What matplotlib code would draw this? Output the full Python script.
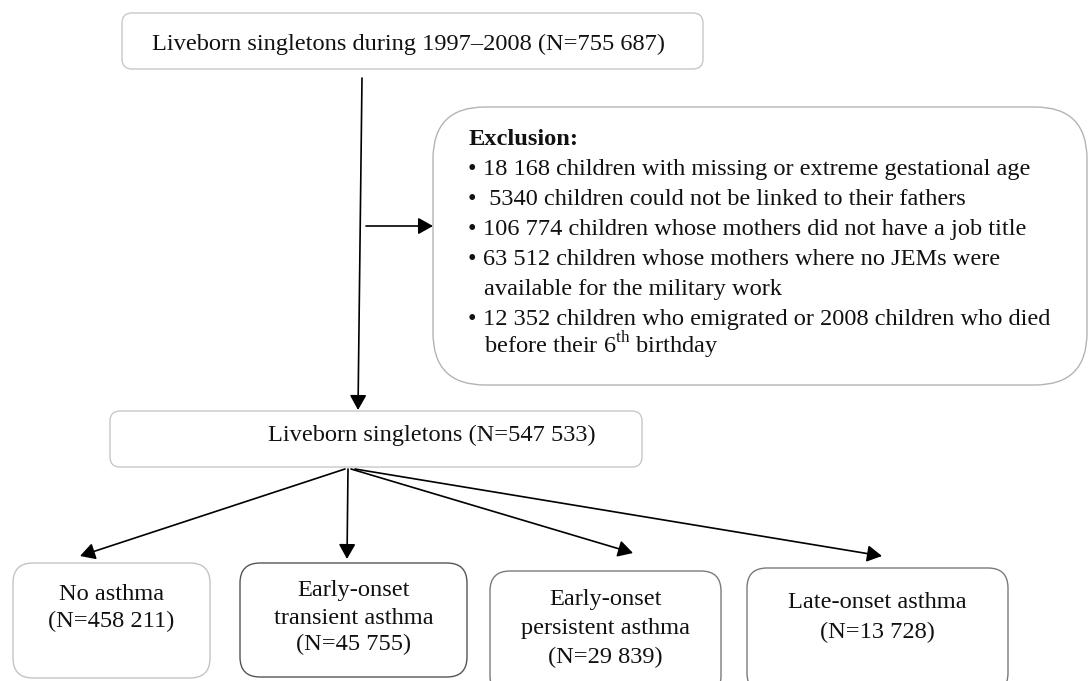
import matplotlib
matplotlib.use("Agg")
import matplotlib.pyplot as plt
from matplotlib.patches import FancyBboxPatch, FancyArrowPatch

# ---------------- data ----------------
total_born = 755687
birth_years = ("1997", "2008")
exclusion_counts = [18168, 5340, 106774, 63512, 12352, 2008]
final_cohort = 547533
group_labels = [["No asthma"],
                ["Early-onset", "transient asthma"],
                ["Early-onset", "persistent asthma"],
                ["Late-onset asthma"]]
group_counts = [458211, 45755, 29839, 13728]


def fmt(n):
    return f"{n:,}".replace(",", " ") if n >= 10000 else str(n)


plt.rcParams["mathtext.fontset"] = "custom"
plt.rcParams["mathtext.rm"] = "Liberation Serif"
FONT = "Liberation Serif"
FS = 17.6

fig = plt.figure(figsize=(10.88, 6.81), dpi=100)
ax = fig.add_axes([0, 0, 1, 1])
ax.set_xlim(0, 1088)
ax.set_ylim(681, 0)
ax.axis("off")


def box(x, y, w, h, r, ec, lw=1.0):
    p = FancyBboxPatch((x, y), w, h, boxstyle=f"round,pad=0,rounding_size={r}",
                       fc="white", ec=ec, lw=lw, zorder=1)
    ax.add_patch(p)


def arrow(p0, p1):
    a = FancyArrowPatch(p0, p1, arrowstyle="-|>,head_length=0.5,head_width=0.28",
                        mutation_scale=18, lw=1.2, color="black",
                        shrinkA=0, shrinkB=0, zorder=3)
    ax.add_patch(a)


def txt(x, y, s, ha="left", weight="normal", size=FS):
    ax.text(x, y, s, ha=ha, va="baseline", fontsize=size, family=FONT,
            weight=weight, color="#111111", zorder=4)


# top box
box(122, 13, 581, 56, 10, "#c8c8c8")
txt(409, 50, f"Liveborn singletons during {birth_years[0]}\u2013{birth_years[1]} (N={fmt(total_born)})",
    ha="center")

# exclusion box
box(433, 107, 654, 278, 52, "#b4b4b4")
c = exclusion_counts
txt(469, 145, "Exclusion:", weight="bold")
bullets = [
    (175, f"{fmt(c[0])} children with missing or extreme gestational age"),
    (205, f" {fmt(c[1])} children could not be linked to their fathers"),
    (235, f"{fmt(c[2])} children whose mothers did not have a job title"),
    (265, f"{fmt(c[3])} children whose mothers where no JEMs were"),
    (325, f"{fmt(c[4])} children who emigrated or {fmt(c[5])} children who died"),
]
for yy, s in bullets:
    txt(468, yy, "\u2022")
    txt(483, yy, s)
txt(484, 295, "available for the military work")
txt(484, 353, "before their 6$^{\\mathrm{th}}$ birthday")

# middle box
box(110, 411, 532, 56, 10, "#c8c8c8")
txt(432, 441, f"Liveborn singletons (N={fmt(final_cohort)})", ha="center")

# bottom boxes
bottom_boxes = [
    (13, 563, 197, 115, "#c4c4c4", [600, 627]),
    (240, 563, 227, 114, "#555555", [596, 624, 650]),
    (490, 571, 231, 125, "#7a7a7a", [605, 634, 663]),
    (747, 568, 261, 125, "#7a7a7a", [608, 638]),
]
for (x, y, w, h, ec, bl), labels, n in zip(bottom_boxes, group_labels, group_counts):
    box(x, y, w, h, 20, ec)
    lines = labels + [f"(N={fmt(n)})"]
    for yy, s in zip(bl, lines):
        txt(x + w / 2, yy, s, ha="center")

# arrows
arrow((362, 78), (358, 410))
arrow((366, 226), (433, 226))
arrow((345, 469), (80, 556))
arrow((348, 469), (347, 559))
arrow((351, 469), (633, 553))
arrow((355, 469), (882, 556))

fig.savefig("out.png", dpi=100)
